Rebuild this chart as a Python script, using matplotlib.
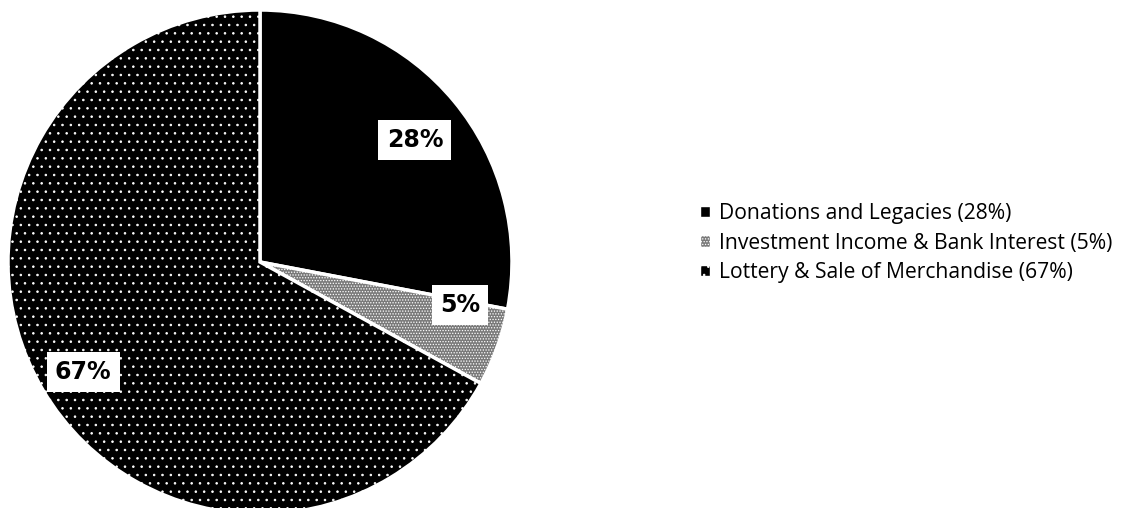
import matplotlib.pyplot as plt
from matplotlib.patches import Patch

labels = ["Donations and Legacies", "Investment Income & Bank Interest", "Lottery & Sale of Merchandise"]
shares = [28, 5, 67]
face_colors = ["black", "#7a7a7a", "black"]
hatches = [None, "......", ".."]
# where the boxed percentages sit, in pie radius units
label_pos = [(0.615, 0.484), (0.794, -0.171), (-0.702, -0.437)]

plt.rcParams['hatch.linewidth'] = 0.6

fig = plt.figure(figsize=(11.38, 5.08), dpi=100)
W, H = 1138, 508
cx, cy, r = 260, 246, 252
ax = fig.add_axes([(cx - r) / W, (cy - r) / H, 2 * r / W, 2 * r / H])

wedges, texts, autotexts = ax.pie(
    shares,
    startangle=90,
    counterclock=False,
    colors=face_colors,
    autopct=lambda p: f"{p:.0f}%",
    pctdistance=0.8,
    wedgeprops=dict(edgecolor="white", linewidth=2.5),
    textprops=dict(fontsize=17, fontweight="bold", family="DejaVu Sans"),
)
for w, h in zip(wedges, hatches):
    if h:
        w.set_hatch(h)
for t, pos in zip(autotexts, label_pos):
    t.set_position(pos)
    t.set_color("black")
    t.set_bbox(dict(facecolor="white", edgecolor="none", pad=6))
ax.set_xlim(-1, 1)
ax.set_ylim(-1, 1)
ax.set_aspect("equal")

handles = [Patch(facecolor=c, edgecolor="white", hatch=h) for c, h in zip(face_colors, hatches)]
legend_labels = [f"{l} ({s}%)" for l, s in zip(labels, shares)]
fig.legend(handles, legend_labels, loc="center left",
           bbox_to_anchor=(681 / W, 1 - 243 / H), frameon=False,
           prop=dict(family="Open Sans", size=15.2), handlelength=0.45, handleheight=0.45,
           handletextpad=0.45, labelspacing=0.4)

fig.savefig("out.png", dpi=100)
